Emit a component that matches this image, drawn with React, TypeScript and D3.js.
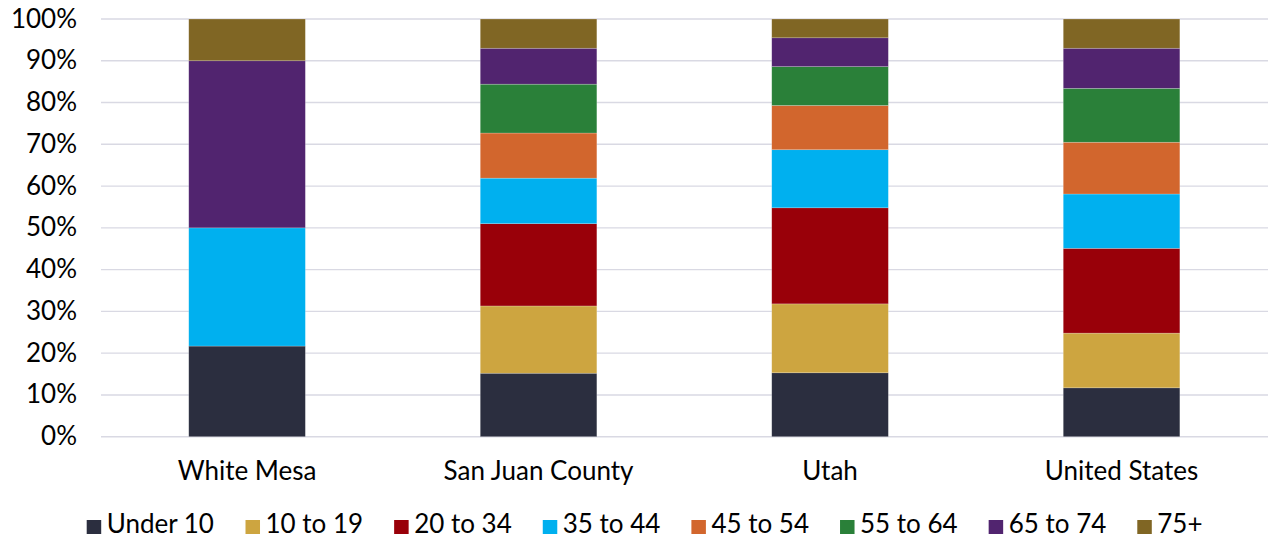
import React, { useMemo } from "react";
import * as d3 from "d3";

const categories = ["White Mesa", "San Juan County", "Utah", "United States"];
const ageGroups = ["Under 10", "10 to 19", "20 to 34", "35 to 44", "45 to 54", "55 to 64", "65 to 74", "75+"];
const colors = ["#2b2e3f", "#cda540", "#990009", "#00b0ef", "#d2662d", "#2a8039", "#51246f", "#806624"];

// share (%) per age group, one array per category
const whiteMesa = [21.7, 0, 0, 28.3, 0, 0, 40.0, 10.0];
const sanJuan = [15.2, 16.1, 19.7, 10.9, 10.8, 11.7, 8.6, 7.0];
const utah = [15.3, 16.5, 23.0, 13.9, 10.6, 9.3, 6.9, 4.5];
const unitedStates = [11.7, 13.1, 20.3, 13.0, 12.4, 12.9, 9.6, 7.0];

const yTicks = [0, 0.1, 0.2, 0.3, 0.4, 0.5, 0.6, 0.7, 0.8, 0.9, 1.0];

const W = 1268;
const H = 541;
const FONT = "Lato, 'Noto Sans', sans-serif";
const FS = 26;
const FW = 400;

export default function App() {
  const seriesRows = [whiteMesa, sanJuan, utah, unitedStates];
  const table = categories.map((c, i) => {
    const row: any = { category: c };
    ageGroups.forEach((g, j) => (row[g] = seriesRows[i][j] / 100));
    return row;
  });
  const stacked = d3.stack().keys(ageGroups)(table);

  const x = d3.scaleBand().domain(categories).range([101.3, 1267.3]).paddingInner(0.6).paddingOuter(0.3);
  const y = d3.scaleLinear().domain([0, 1]).range([436.7, 19]);
  const fmt = d3.format(".0%");

  const legend = useMemo(() => {
    const canvas = document.createElement("canvas");
    const ctx = canvas.getContext("2d")!;
    ctx.font = `${FW} ${FS}px Lato`;
    let cx = 86.7;
    return ageGroups.map((g, i) => {
      const w = ctx.measureText(g).width;
      const item = { g, color: colors[i], x: cx, w };
      cx += 15 + 5 + w + 31;
      return item;
    });
  }, []);

  return (
    <svg width={W} height={H} style={{ position: "absolute", left: 0, top: 0, background: "#fff" }} fontFamily={FONT} fontWeight={FW}>
      {yTicks.map((t) => (
        <g key={t}>
          <line x1={101} x2={1268} y1={y(t)} y2={y(t)} stroke="#d9d9e3" strokeWidth={1.4} />
          <text x={77} y={y(t) + 8.5} textAnchor="end" fontSize={FS} fill="#000">
            {fmt(t)}
          </text>
        </g>
      ))}
      {stacked.map((s, i) => (
        <g key={s.key} fill={colors[i]}>
          {s.map((d: any) =>
            d[1] - d[0] > 0 ? (
              <rect
                key={d.data.category}
                x={x(d.data.category)}
                width={x.bandwidth()}
                y={y(d[1])}
                height={y(d[0]) - y(d[1])}
                stroke="#ffffff"
                strokeOpacity={0.35}
                strokeWidth={0.6}
              />
            ) : null
          )}
        </g>
      ))}
      {categories.map((c) => (
        <text key={c} x={x(c)! + x.bandwidth() / 2} y={480} textAnchor="middle" fontSize={FS} fill="#000">
          {c}
        </text>
      ))}
      {legend.map((it) => (
        <g key={it.g}>
          <rect x={it.x} y={520} width={14.5} height={14} fill={it.color} />
          <text x={it.x + 20} y={533.3} fontSize={FS} fill="#000">
            {it.g}
          </text>
        </g>
      ))}
    </svg>
  );
}
